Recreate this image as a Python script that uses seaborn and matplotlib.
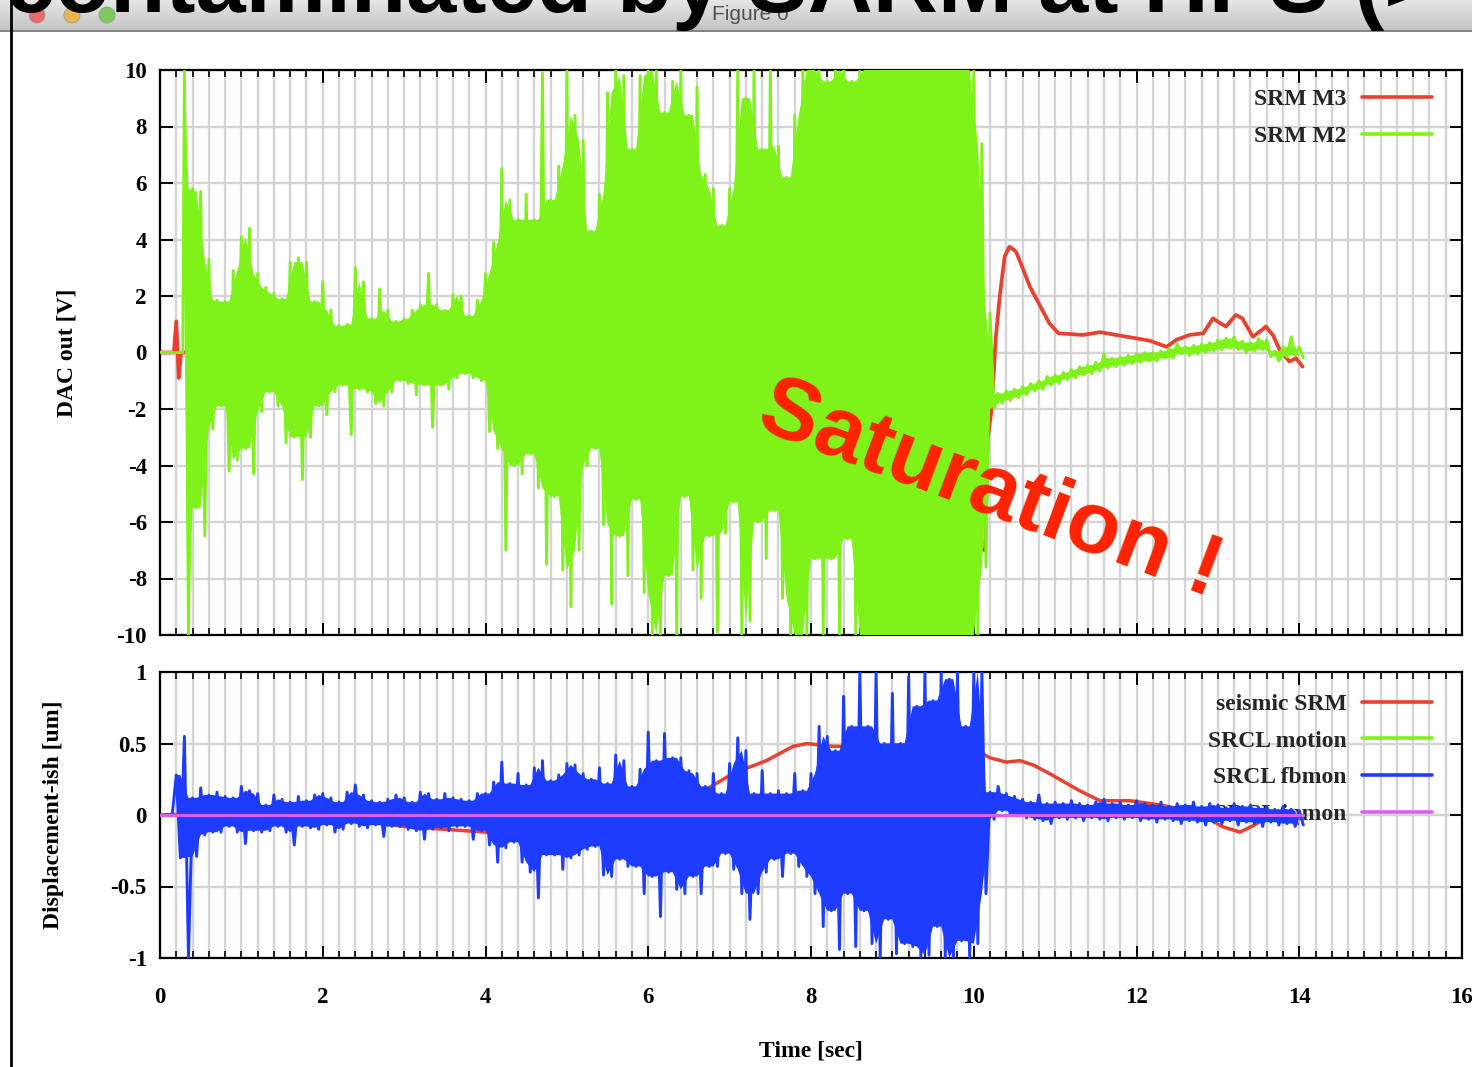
import numpy as np
import pandas as pd
import matplotlib
matplotlib.use("Agg")
import matplotlib.pyplot as plt
from matplotlib.lines import Line2D
from matplotlib.patches import Circle
from matplotlib.ticker import MultipleLocator, FixedLocator
from matplotlib.colors import LinearSegmentedColormap
import seaborn as sns

# ---------------------------------------------------------------- data
# top panel: SRM M3 (red), slow trace
m3_time = [0.0, 0.17, 0.20, 0.23, 0.26, 0.30, 0.50, 0.75, 1.5, 2.05, 2.5, 3.0, 3.5, 3.9,
           4.5, 5.5, 6.3, 6.94, 7.5, 8.0, 8.46, 9.0, 9.6, 10.14, 10.17, 10.22, 10.27,
           10.32, 10.38, 10.44, 10.52, 10.61, 10.69, 10.81, 10.93, 11.04, 11.2, 11.34,
           11.55, 11.75, 12.0, 12.16, 12.37, 12.49, 12.65, 12.82, 12.94, 13.02, 13.10,
           13.22, 13.30, 13.43, 13.52, 13.59, 13.68, 13.76, 13.88, 13.96, 14.04]
m3_dac = [0.0, 0.0, 1.1, -0.9, 0.0, 0.0, 0.3, 0.6, 0.3, -0.4, 0.3, 1.1, 1.15, 1.05,
          0.5, -0.5, -1.5, -2.9, -3.5, -4.5, -6.0, -5.5, -6.5, -7.0, -3.1, -2.0, 0.5,
          2.0, 3.4, 3.75, 3.57, 2.92, 2.33, 1.68, 1.03, 0.68, 0.65, 0.62,
          0.72, 0.62, 0.5, 0.42, 0.2, 0.45, 0.62, 0.68, 1.21, 1.05, 0.92,
          1.33, 1.21, 0.56, 0.75, 0.92, 0.6, 0.09, -0.32, -0.2, -0.5]

# top panel: SRM M2 (green); quiet lead-in, then successive peaks (t = 0.30, 0.40, ...)
# and troughs (t = 0.35, 0.45, ...)
m2_lead_time = [0.0, 0.28]
m2_lead_dac = [0.0, 0.0]
m2_first_peak = 0.30
m2_peaks = [10, 5.8, 5.7, 3.3, 1.85, 1.8, 2.9, 4.1, 4.4, 2.8,
            2.3, 2.1, 1.9, 3.2, 3.35, 3.2, 1.8, 2.5, 1.5, 0.95,
            1.0, 3.0, 2.5, 1.2, 2.25, 1.5, 1.1, 1.2, 1.5, 1.7,
            2.8, 1.7, 1.5, 2.05, 2.0, 1.3, 1.85, 2.8, 3.9, 6.5,
            5.4, 4.7, 5.6, 4.7, 9.9, 5.4, 6.6, 10, 8.4, 7.5,
            4.3, 5.6, 9.2, 10, 9.8, 7.2, 9.8, 10, 10, 8.5,
            9.6, 10, 8.4, 9.4, 6.3, 5.8, 4.5, 5.8, 10, 9.0,
            10, 7.2, 10, 7.3, 6.2, 8.4, 10, 10, 10, 9.6,
            10, 10, 9.6, 10, 10, 10, 10, 10, 10, 10,
            10, 10, 10, 10, 10, 10, 10, 10, 7.4, 1.4,
            -1.45, -1.35, -1.3, -1.2, -1.1, -1.0, -0.85, -0.8, -0.7, -0.6,
            -0.5, -0.45, -0.35, -0.05, -0.2, -0.15, -0.1, -0.05, 0.0, 0.0,
            0.05, 0.15, 0.3, 0.2, 0.25, 0.3, 0.35, 0.45, 0.5, 0.55,
            0.4, 0.35, 0.5, 0.45, 0.05, 0.2, 0.55, 0.2]
m2_troughs = [-10, -5.5, -6.5, -2.7, -1.9, -4.2, -3.8, -3.4, -4.3, -2.1,
              -1.4, -1.9, -3.2, -3.0, -4.5, -3.0, -1.9, -2.2, -1.4, -1.15,
              -2.9, -1.3, -1.4, -1.8, -1.9, -1.4, -1.0, -1.1, -1.5, -1.15,
              -2.65, -1.15, -1.3, -0.9, -0.75, -0.9, -1.0, -2.8, -3.4, -7.0,
              -4.0, -4.3, -3.6, -4.8, -7.5, -5.1, -7.7, -9.0, -7.0, -4.0,
              -3.4, -6.1, -8.9, -6.5, -7.9, -5.2, -8.5, -10, -10, -7.9,
              -10, -5.1, -7.7, -8.7, -6.5, -9.9, -6.4, -5.3, -10, -9.5,
              -6.0, -7.3, -5.6, -8.7, -10, -10, -10, -7.3, -10, -7.3,
              -10, -6.6, -10, -10, -10, -10, -10, -10, -10, -10,
              -10, -10, -10, -10, -10, -10, -10, -10, -7.6, -2.0,
              -1.8, -1.7, -1.6, -1.5, -1.35, -1.3, -1.15, -1.1, -0.95, -0.9,
              -0.8, -0.75, -0.65, -0.55, -0.5, -0.45, -0.4, -0.35, -0.3, -0.3,
              -0.2, -0.2, -0.05, -0.1, -0.05, 0.0, 0.05, 0.1, 0.15, 0.1,
              0.0, 0.05, 0.1, -0.15, -0.3, -0.15, -0.1, -0.2]

# bottom panel: seismic SRM (red), slow trace
seis_time = [0.0, 0.5, 1.0, 1.5, 2.0, 2.4, 2.7, 3.0, 3.5, 4.0, 4.3, 5.0, 5.5, 6.0, 6.3,
             6.6, 7.04, 7.45, 7.78, 7.95, 8.27, 8.68, 9.09, 9.5, 9.91, 10.07, 10.2, 10.4,
             10.57, 10.73, 10.93, 11.3, 11.55, 11.92, 12.29, 12.65, 12.9, 13.05, 13.27,
             13.45, 13.64, 13.82, 14.04]
seis_disp = [0.0, 0.01, 0.02, 0.03, 0.04, 0.02, -0.06, -0.08, -0.1, -0.12, -0.13, -0.12,
             -0.08, 0.0, 0.06, 0.14, 0.29, 0.38, 0.48, 0.50, 0.48, 0.48, 0.49, 0.49, 0.47,
             0.44, 0.40, 0.37, 0.38, 0.35, 0.29, 0.17, 0.1, 0.1, 0.07, 0.03, -0.03, -0.08,
             -0.12, -0.07, 0.0, 0.0, -0.03]

# bottom panel: SRCL motion (green) and SRCL inmon (magenta) stay at zero
motion_time = [0.0, 14.05]
motion_disp = [0.0, 0.0]
inmon_time = [0.0, 14.05]
inmon_disp = [0.0, 0.0]

# bottom panel: SRCL fbmon (blue); lead-in, peaks (t = 0.20, 0.30, ...), troughs (0.25, 0.35, ...)
fb_lead_time = [0.0, 0.15]
fb_lead_disp = [0.0, 0.0]
fb_first_peak = 0.20
fb_peaks = [0.28, 0.55, 0.12, 0.19, 0.14, 0.16, 0.13, 0.12, 0.20, 0.17,
            0.15, 0.07, 0.14, 0.11, 0.09, 0.13, 0.10, 0.14, 0.15, 0.12,
            0.09, 0.16, 0.21, 0.14, 0.10, 0.09, 0.11, 0.14, 0.12, 0.09,
            0.16, 0.15, 0.11, 0.15, 0.12, 0.11, 0.10, 0.15, 0.15, 0.23,
            0.37, 0.22, 0.29, 0.21, 0.33, 0.38, 0.24, 0.28, 0.36, 0.35,
            0.29, 0.25, 0.33, 0.22, 0.42, 0.38, 0.20, 0.32, 0.58, 0.38,
            0.57, 0.40, 0.40, 0.31, 0.29, 0.20, 0.29, 0.15, 0.36, 0.54,
            0.45, 0.15, 0.31, 0.15, 0.17, 0.15, 0.29, 0.17, 0.29, 0.62,
            0.55, 0.45, 0.83, 0.62, 1.0, 0.62, 1.0, 0.5, 0.85, 0.5,
            0.97, 0.76, 1.0, 0.8, 1.0, 0.95, 1.0, 0.62, 1.0, 1.0,
            0.16, 0.20, 0.15, 0.13, 0.11, 0.09, 0.14, 0.08, 0.09, 0.08,
            0.10, 0.08, 0.07, 0.09, 0.11, 0.08, 0.09, 0.07, 0.10, 0.08,
            0.07, 0.09, 0.06, 0.08, 0.07, 0.09, 0.06, 0.08, 0.07, 0.05,
            0.08, 0.06, 0.07, 0.05, 0.06, 0.04, 0.06, 0.04, 0.03]
fb_troughs = [-0.3, -1.0, -0.29, -0.14, -0.12, -0.12, -0.08, -0.12, -0.2, -0.11,
              -0.12, -0.11, -0.08, -0.12, -0.21, -0.08, -0.09, -0.1, -0.07, -0.12,
              -0.1, -0.06, -0.08, -0.09, -0.07, -0.15, -0.08, -0.08, -0.1, -0.11,
              -0.17, -0.1, -0.09, -0.11, -0.08, -0.08, -0.17, -0.11, -0.21, -0.33,
              -0.23, -0.19, -0.33, -0.40, -0.58, -0.28, -0.28, -0.38, -0.3, -0.28,
              -0.24, -0.22, -0.42, -0.43, -0.31, -0.36, -0.36, -0.55, -0.43, -0.71,
              -0.4, -0.52, -0.55, -0.43, -0.55, -0.36, -0.36, -0.27, -0.38, -0.55,
              -0.73, -0.55, -0.4, -0.31, -0.43, -0.27, -0.36, -0.43, -0.55, -0.78,
              -0.67, -0.94, -0.55, -0.92, -0.67, -0.9, -1.0, -0.73, -0.97, -0.9,
              -0.92, -1.0, -0.98, -0.78, -1.0, -1.0, -0.88, -1.0, -0.9, -0.55,
              -0.03, 0.03, 0.0, 0.0, -0.02, -0.03, -0.04, -0.06, -0.02, -0.03,
              -0.02, -0.04, -0.02, -0.03, -0.04, -0.02, -0.03, -0.02, -0.04, -0.03,
              -0.05, -0.03, -0.04, -0.06, -0.04, -0.05, -0.07, -0.05, -0.06, -0.04,
              -0.07, -0.05, -0.06, -0.08, -0.05, -0.07, -0.06, -0.08, -0.07]

x_ticks = [0, 2, 4, 6, 8, 10, 12, 14, 16]
top_y_ticks = [-10, -8, -6, -4, -2, 0, 2, 4, 6, 8, 10]
bottom_y_ticks = [-1, -0.5, 0, 0.5, 1]
bottom_y_labels = ["-1", "-0.5", "0", "0.5", "1"]
top_legend = ["SRM M3", "SRM M2"]
bottom_legend = ["seismic SRM", "SRCL motion", "SRCL fbmon", "SRCL inmon"]


def osc_frame(lead_t, lead_v, first, peaks, troughs):
    t = list(lead_t)
    v = list(lead_v)
    for i, (p, q) in enumerate(zip(peaks, troughs)):
        tp = round(first + 0.1 * i, 3)
        t += [tp, round(tp + 0.05, 3)]
        v += [p, q]
    return pd.DataFrame({"t": t, "v": v})


def core_outline(first, peaks, troughs):
    # solid body between successive swings: each dip between two peaks is filled up to
    # the lower of the two peaks, each hump between two troughs down to the higher trough
    n = len(peaks)
    up_t = [first] + [round(first + 0.1 * i + 0.05, 3) for i in range(n - 1)]
    up_v = [peaks[0]] + [min(peaks[i], peaks[i + 1]) for i in range(n - 1)]
    lo_t = [round(first + 0.05, 3)] + [round(first + 0.1 * i, 3) for i in range(1, n)]
    lo_v = [troughs[0]] + [max(troughs[i - 1], troughs[i]) for i in range(1, n)]
    return up_t + lo_t[::-1], up_v + lo_v[::-1]


df_m3 = pd.DataFrame({"t": m3_time, "v": m3_dac})
df_m2 = osc_frame(m2_lead_time, m2_lead_dac, m2_first_peak, m2_peaks, m2_troughs)
core_m2 = core_outline(m2_first_peak, m2_peaks, m2_troughs)
df_seis = pd.DataFrame({"t": seis_time, "v": seis_disp})
df_motion = pd.DataFrame({"t": motion_time, "v": motion_disp})
df_fb = osc_frame(fb_lead_time, fb_lead_disp, fb_first_peak, fb_peaks, fb_troughs)
core_fb = core_outline(fb_first_peak, fb_peaks, fb_troughs)
df_inmon = pd.DataFrame({"t": inmon_time, "v": inmon_disp})

# ---------------------------------------------------------------- style
sns.set_theme(style="white")
plt.rcParams["font.family"] = ["Liberation Serif", "DejaVu Serif"]
plt.rcParams["font.weight"] = "bold"
plt.rcParams["axes.unicode_minus"] = False

RED = "#e8412f"
GREEN = "#7ff21a"
BLUE = "#1e3cff"
MAGENTA = "#d95ff0"
GRID = "#d4d4d4"

W, H = 1472, 1067
fig = plt.figure(figsize=(W / 100, H / 100), dpi=100)
fig.patch.set_facecolor("white")


def fx(px):
    return px / W


def fy(py):
    return 1 - py / H


ax1 = fig.add_axes([fx(160), fy(635), fx(1462) - fx(160), fy(70) - fy(635)])
ax2 = fig.add_axes([fx(160), fy(958), fx(1462) - fx(160), fy(672) - fy(958)])

line_kw = dict(sort=False, estimator=None, legend=False)
sns.lineplot(data=df_m3, x="t", y="v", ax=ax1, color=RED, linewidth=2.7, zorder=3, **line_kw)
ax1.fill(core_m2[0], core_m2[1], color=GREEN, lw=0, zorder=4)
sns.lineplot(data=df_m2, x="t", y="v", ax=ax1, color=GREEN, linewidth=2.1, zorder=4, **line_kw)

sns.lineplot(data=df_seis, x="t", y="v", ax=ax2, color=RED, linewidth=2.5, zorder=3, **line_kw)
sns.lineplot(data=df_motion, x="t", y="v", ax=ax2, color=GREEN, linewidth=2.2, zorder=3.5, **line_kw)
ax2.fill(core_fb[0], core_fb[1], color=BLUE, lw=0, zorder=4)
sns.lineplot(data=df_fb, x="t", y="v", ax=ax2, color=BLUE, linewidth=2.1, zorder=4, **line_kw)
sns.lineplot(data=df_inmon, x="t", y="v", ax=ax2, color=MAGENTA, linewidth=2.2, zorder=5, **line_kw)

for ax in (ax1, ax2):
    ax.set_facecolor("white")
    ax.set_xlim(0, 16)
    ax.xaxis.set_major_locator(FixedLocator(x_ticks))
    ax.xaxis.set_minor_locator(MultipleLocator(0.2))
    ax.grid(True, which="major", axis="both", color=GRID, lw=1.7)
    ax.grid(True, which="minor", axis="x", color=GRID, lw=1.7)
    ax.set_axisbelow(True)
    ax.tick_params(which="major", direction="in", length=9, width=1.4, color="black",
                   top=True, right=True, bottom=True, left=True, labelsize=16.5,
                   labelcolor="black")
    ax.tick_params(axis="x", which="minor", direction="in", length=5, width=1.2,
                   color="black", top=True, bottom=True)
    ax.tick_params(axis="y", which="major", pad=9.5)
    for s in ax.spines.values():
        s.set_color("black")
        s.set_linewidth(1.6)
        s.set_visible(True)
    ax.set_xlabel("")
    ax.set_ylabel("")

ax1.set_ylim(-10, 10)
ax1.yaxis.set_major_locator(FixedLocator(top_y_ticks))
ax1.set_yticklabels([str(v) for v in top_y_ticks])
ax1.tick_params(axis="x", labelbottom=False)

ax2.set_ylim(-1, 1)
ax2.yaxis.set_major_locator(FixedLocator(bottom_y_ticks))
ax2.set_yticklabels(bottom_y_labels)
ax2.set_xticklabels([str(v) for v in x_ticks])
ax2.tick_params(axis="x", which="major", pad=21)

ax1.set_ylabel("DAC out [V]", fontsize=17, color="black", fontweight="bold")
ax1.yaxis.set_label_coords(-0.063, 0.5)
ax2.set_ylabel("Displacement-ish [um]", fontsize=17, color="black", fontweight="bold")
ax2.yaxis.set_label_coords(-0.0737, 0.5)
ax2.set_xlabel("Time [sec]", fontsize=17, color="black", fontweight="bold")
ax2.xaxis.set_label_coords(0.5, -0.29)

leg_kw = dict(frameon=False, markerfirst=False, handlelength=2.97, handletextpad=0.64,
              labelspacing=0.64, borderpad=0, borderaxespad=0, loc="upper right",
              prop={"family": ["Liberation Serif"], "weight": "bold", "size": 17})
h_top = [Line2D([], [], color=RED, lw=2.6), Line2D([], [], color=GREEN, lw=2.6)]
leg1 = ax1.legend(h_top, top_legend, bbox_to_anchor=(0.977, 0.967), **leg_kw)
leg1.set_zorder(1)
h_bot = [Line2D([], [], color=c, lw=2.6) for c in (RED, GREEN, BLUE, MAGENTA)]
leg2 = ax2.legend(h_bot, bottom_legend, bbox_to_anchor=(0.977, 0.9245), **leg_kw)
leg2.set_zorder(1)

ax1.text(10.2, -4.9, "Saturation !", rotation=-20.5, rotation_mode="anchor",
         ha="center", va="center", fontsize=63, fontweight="bold", color="#ff2200",
         family=["Liberation Sans", "DejaVu Sans"], zorder=10)

# ---------------------------------------------------------------- window chrome
bar = fig.add_axes([0, fy(32), 1, fy(0) - fy(32)])
grad = np.linspace(0, 1, 64).reshape(-1, 1)
bar.imshow(grad, cmap=LinearSegmentedColormap.from_list("bar", ["#e6e6e6", "#c2c2c2"]),
           aspect="auto", extent=[0, W, 32, 0])
bar.set_xlim(0, W)
bar.set_ylim(32, 0)
bar.axhline(31.3, color="#858585", lw=1.5)
for cx, col in ((37, "#e86a64"), (72, "#e9b54a"), (107, "#7dc860")):
    bar.add_patch(Circle((cx, 15), 8, facecolor=col, edgecolor="#9a9a9a", lw=0.6))
bar.text(750, 15, "Figure 0", ha="center", va="center", fontsize=15, color="#505050",
         fontweight="normal", family=["Liberation Sans Narrow", "Liberation Sans", "DejaVu Sans"])
bar.axis("off")

fig.text(fx(5), fy(12), "contaminated by SARM at HPS (>", fontsize=65, fontweight="bold",
         family=["Liberation Sans", "DejaVu Sans"], va="baseline", ha="left",
         color="black", zorder=20)
fig.add_artist(Line2D([fx(10.5), fx(10.5)], [0, 1], transform=fig.transFigure,
                      color="black", lw=2))

fig.savefig("out.png", dpi=100)
